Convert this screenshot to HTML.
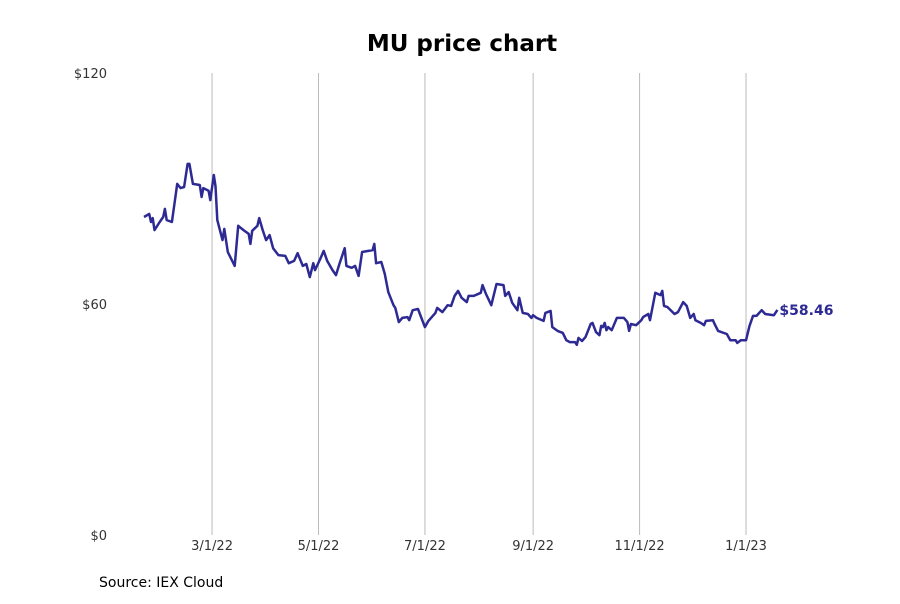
<!DOCTYPE html>
<html><head><meta charset="utf-8"><style>
body{margin:0;background:#fff;font-family:"DejaVu Sans","Liberation Sans",sans-serif}
svg text{font-family:"DejaVu Sans","Liberation Sans",sans-serif}
</style></head><body>
<svg id="chart" width="900" height="600" xmlns="http://www.w3.org/2000/svg">
<rect width="900" height="600" fill="#fff"/>
<text x="462" y="51" text-anchor="middle" font-size="23" font-weight="bold" fill="#000">MU price chart</text>
<g id="grid"></g><g id="yaxis"></g><g id="xaxis"></g><g id="series"></g>
<text x="99" y="587" font-size="14" fill="#000">Source: IEX Cloud</text>
</svg>
<script>
const startDate = "2022-01-21";
const dayOffsets = [0,3,4,5,6,9,11,12,13,16,18,19,21,23,25,26,28,32,33,34,37,38,40,41,42,45,46,48,52,54,57,60,61,62,65,66,68,70,72,74,77,81,83,86,88,91,93,95,97,98,101,103,105,108,110,112,115,116,119,121,123,125,131,132,133,136,138,140,143,144,146,148,151,152,154,157,161,163,167,168,171,174,176,178,180,182,185,186,189,193,194,196,199,202,206,207,209,211,214,215,217,220,222,223,225,229,230,233,234,237,240,242,244,247,248,249,251,253,256,257,259,261,262,263,264,265,266,268,271,275,277,278,279,282,285,286,289,290,293,296,297,298,300,304,306,309,311,313,315,316,319,321,322,326,327,329,334,336,339,340,342,345,347,349,351,354,356,361,363];
const prices = [82.6,83.4,81.3,82.3,79.2,81.3,82.6,84.7,81.8,81.3,87.8,91.2,90.1,90.4,96.4,96.4,91.2,90.9,87.8,90.1,89.4,87.0,93.5,90.6,81.8,76.6,79.5,73.5,69.9,80.3,79.2,78.2,75.6,79.0,80.3,82.3,79.2,76.6,77.9,74.5,72.7,72.5,70.6,71.2,73.2,69.9,70.4,67.0,70.6,68.8,71.7,73.8,71.2,68.8,67.5,70.4,74.5,69.9,69.4,69.9,67.3,73.5,74.0,75.6,70.6,70.9,67.8,63.1,59.7,59.0,55.3,56.4,56.6,55.8,58.4,58.7,54.0,55.6,57.7,59.0,57.9,59.7,59.5,62.1,63.4,61.6,60.5,62.1,62.1,62.9,64.9,62.6,59.7,65.2,64.9,62.1,63.1,60.3,58.4,61.6,57.7,57.4,56.4,57.1,56.4,55.6,57.7,58.2,54.0,53.0,52.5,50.6,50.1,50.1,49.4,51.2,50.4,51.4,54.8,55.1,52.7,51.9,54.3,54.0,55.1,53.2,54.0,53.2,56.4,56.4,55.3,53.0,54.8,54.5,55.8,56.6,57.4,55.8,62.9,62.3,63.4,59.5,59.2,57.4,57.9,60.5,59.5,56.4,57.4,55.8,55.1,54.5,55.6,55.8,54.8,53.0,52.2,50.6,50.6,49.9,50.6,50.6,54.3,56.9,56.9,58.4,57.4,57.1,58.46];
const yTicks = [0,60,120];
const yTickLabels = ["$0","$60","$120"];
const xTickDates = ["2022-03-01","2022-05-01","2022-07-01","2022-09-01","2022-11-01","2023-01-01"];
const xTickLabels = ["3/1/22","5/1/22","7/1/22","9/1/22","11/1/22","1/1/23"];
const lastLabel = "$58.46";

const NS="http://www.w3.org/2000/svg";
const t0=Date.parse(startDate+"T00:00:00Z");
function dayOf(s){return (Date.parse(s+"T00:00:00Z")-t0)/86400000;}
function x(d){return 144+d*1.745;}
function y(v){return 535-v*(462/120);}
function mk(tag,attrs,parent){const e=document.createElementNS(NS,tag);for(const k in attrs)e.setAttribute(k,attrs[k]);parent.appendChild(e);return e;}
const grid=document.getElementById('grid'),ya=document.getElementById('yaxis'),xa=document.getElementById('xaxis'),se=document.getElementById('series');
yTicks.forEach((v,i)=>{
  const t=mk('text',{x:107,y:y(v)+5,'text-anchor':'end','font-size':13,fill:'#333'},ya);
  
  
  t.textContent=yTickLabels[i];
});
xTickDates.forEach((s,i)=>{
  const xx=x(dayOf(s));
  const l=mk('line',{x1:xx,x2:xx,y1:73,y2:535,stroke:'#bbb','stroke-width':1},grid);
  
  
  const t=mk('text',{x:xx,y:550,'text-anchor':'middle','font-size':13,fill:'#333'},xa);
  
  
  t.textContent=xTickLabels[i];
});
const pts=dayOffsets.map((d,i)=>x(d).toFixed(1)+","+y(prices[i]).toFixed(1)).join(" ");
const pl=mk('polyline',{points:pts,fill:'none',stroke:'#2e2a94','stroke-width':2.5,'stroke-linejoin':'round'},se);


const n=prices.length-1;
const lt=mk('text',{x:x(dayOffsets[n])+2,y:y(prices[n])+5,'font-size':14,'font-weight':'bold',fill:'#2e2a94'},se);


lt.textContent=lastLabel;
</script>
</body></html>
